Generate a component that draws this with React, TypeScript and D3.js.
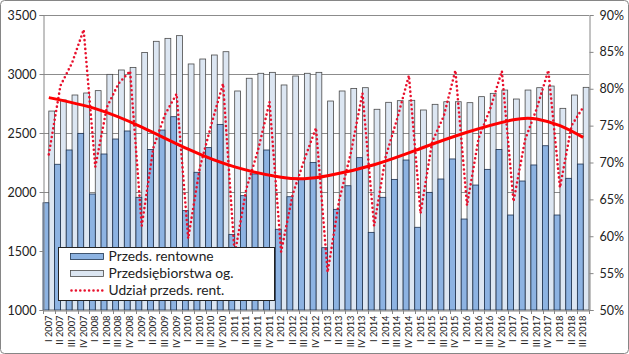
import React, { useEffect, useRef } from 'react';
import * as d3 from 'd3';

// quarters I 2007 .. III 2018
const roman = ['I', 'II', 'III', 'IV'];
const years = [2007, 2008, 2009, 2010, 2011, 2012, 2013, 2014, 2015, 2016, 2017, 2018];
const quarters: string[] = years.flatMap(y => roman.map(r => `${r} ${y}`)).slice(0, 47);

// Przeds. rentowne
const profitable = [
  1909, 2235, 2356, 2497, 1983, 2322, 2449, 2517, 1955, 2361, 2525, 2638,
  1842, 2167, 2376, 2573, 1641, 1969, 2153, 2356, 1684, 1960, 2116, 2251,
  1528, 1853, 2053, 2291, 1658, 1955, 2107, 2271, 1701, 1997, 2110, 2280,
  1771, 2059, 2192, 2361, 1805, 2093, 2229, 2392, 1805, 2116, 2237,
];

// Przedsiębiorstwa og.
const total = [
  2686, 2780, 2822, 2839, 2859, 2997, 3034, 3056, 3183, 3277, 3302, 3325,
  3085, 3127, 3161, 3189, 2856, 2964, 3006, 3014, 2907, 2983, 3006, 3014,
  2771, 2856, 2878, 2884, 2701, 2760, 2774, 2777, 2695, 2743, 2765, 2765,
  2757, 2808, 2836, 2864, 2788, 2864, 2884, 2898, 2709, 2822, 2887,
];

// Udział przeds. rent. (%)
const share = [
  71.1, 80.4, 83.5, 88.0, 69.4, 77.5, 80.7, 82.4, 61.4, 72.0, 76.5, 79.3,
  59.7, 69.3, 75.2, 80.7, 57.5, 66.4, 71.6, 78.2, 57.9, 65.7, 70.4, 74.7,
  55.1, 64.9, 71.3, 79.4, 61.4, 70.8, 76.0, 81.8, 63.1, 72.8, 76.3, 82.5,
  64.2, 73.3, 77.3, 82.4, 64.7, 73.1, 77.3, 82.5, 66.6, 75.0, 77.5,
];

// trend line read at a few quarters
const trendAt = ['I 2007', 'I 2008', 'I 2009', 'I 2010', 'I 2011', 'I 2012', 'III 2012', 'I 2013',
  'I 2014', 'I 2015', 'I 2016', 'I 2017', 'III 2017', 'I 2018', 'III 2018'];
const trendVals = [78.8, 77.3, 74.8, 71.8, 69.4, 68.0, 67.8, 68.2,
  69.7, 71.9, 74.1, 75.8, 75.9, 75.0, 73.4];

const leftTicks = [1000, 1500, 2000, 2500, 3000, 3500];
const rightTicks = [50, 55, 60, 65, 70, 75, 80, 85, 90];

const W = 629;
const H = 354;
const font = 'Lato, "Open Sans", sans-serif';

export default function App() {
  const svgRef = useRef<SVGSVGElement>(null);

  useEffect(() => {
    if (!svgRef.current) return;
    const svg = d3.select(svgRef.current);
    svg.selectAll('*').remove();

    const margin = { top: 15, right: 40, bottom: 44, left: 43 };
    const x0 = margin.left;
    const x1 = W - margin.right;
    const yTop = margin.top;
    const yBot = H - margin.bottom;

    const x = d3.scaleBand<string>().domain(quarters).range([x0, x1]).padding(0);
    const sub = d3.scaleBand<string>().domain(['p', 't']).range([0, x.bandwidth()]).padding(0);
    const yL = d3.scaleLinear().domain([1000, 3500]).range([yBot, yTop]);
    const yR = d3.scaleLinear().domain([50, 90]).range([yBot, yTop]);

    // outer frame
    svg.append('rect')
      .attr('x', 0.5).attr('y', 0.5)
      .attr('width', W - 1).attr('height', H - 1)
      .attr('rx', 4)
      .attr('fill', '#fff')
      .attr('stroke', '#868686');

    // gridlines
    svg.append('g')
      .selectAll('line')
      .data(leftTicks.slice(1))
      .join('line')
      .attr('x1', x0).attr('x2', x1)
      .attr('y1', d => Math.round(yL(d)) + 0.5)
      .attr('y2', d => Math.round(yL(d)) + 0.5)
      .attr('stroke', '#8c8c8c');

    // bars
    const g = svg.append('g');
    g.selectAll('rect.t')
      .data(quarters)
      .join('rect')
      .attr('class', 't')
      .attr('x', q => x(q)! + sub('t')!)
      .attr('y', (_, i) => yL(total[i]))
      .attr('width', sub.bandwidth())
      .attr('height', (_, i) => yBot - yL(total[i]))
      .attr('fill', '#dce6f2')
      .attr('stroke', '#4a4a4a')
      .attr('stroke-width', 0.8);

    g.selectAll('rect.p')
      .data(quarters)
      .join('rect')
      .attr('class', 'p')
      .attr('x', q => x(q)! + sub('p')!)
      .attr('y', (_, i) => yL(profitable[i]))
      .attr('width', sub.bandwidth())
      .attr('height', (_, i) => yBot - yL(profitable[i]))
      .attr('fill', '#8db3e2')
      .attr('stroke', '#1f3350')
      .attr('stroke-width', 0.8);

    // left axis
    const axL = svg.append('g')
      .attr('transform', `translate(${x0 + 0.5},0)`)
      .call(d3.axisLeft(yL).tickValues(leftTicks).tickSize(4).tickPadding(3).tickFormat(d3.format('d')));
    axL.select('.domain').attr('stroke', '#868686');
    axL.selectAll('.tick line').attr('stroke', '#868686');
    axL.selectAll('.tick text').attr('font-family', font).attr('font-size', 12.5).attr('fill', '#222');

    // right axis
    const axR = svg.append('g')
      .attr('transform', `translate(${x1 + 0.5},0)`)
      .call(d3.axisRight(yR).tickValues(rightTicks).tickSize(4).tickPadding(6).tickFormat(d => `${d}%`));
    axR.select('.domain').attr('stroke', '#868686');
    axR.selectAll('.tick line').attr('stroke', '#868686');
    axR.selectAll('.tick text').attr('font-family', font).attr('font-size', 12.5).attr('fill', '#222');

    // bottom axis
    const axB = svg.append('g')
      .attr('transform', `translate(0,${yBot + 0.5})`)
      .call(d3.axisBottom(x).tickSize(0).tickPadding(4));
    axB.select('.domain').attr('stroke', '#868686');
    axB.selectAll('.tick text')
      .attr('font-family', font)
      .attr('font-size', 9.3)
      .attr('fill', '#222')
      .attr('transform', 'rotate(-90)')
      .attr('text-anchor', 'end')
      .attr('x', -5)
      .attr('y', 0)
      .attr('dy', '0.32em');
    svg.append('g')
      .selectAll('line')
      .data(quarters.concat(['end']))
      .join('line')
      .attr('x1', (q, i) => Math.round(i < quarters.length ? x(q)! : x1) + 0.5)
      .attr('x2', (q, i) => Math.round(i < quarters.length ? x(q)! : x1) + 0.5)
      .attr('y1', yBot)
      .attr('y2', yBot + 4)
      .attr('stroke', '#868686');

    // share line (dotted)
    const cx = (q: string) => x(q)! + x.bandwidth() / 2;
    const line = d3.line<number>()
      .x((_, i) => cx(quarters[i]))
      .y(d => yR(d));
    svg.append('path')
      .datum(share)
      .attr('fill', 'none')
      .attr('stroke', '#e8102c')
      .attr('stroke-width', 2.6)
      .attr('stroke-linecap', 'round')
      .attr('stroke-dasharray', '0 4.4')
      .attr('d', line);

    // trend
    const trendLine = d3.line<number>()
      .x((_, i) => cx(trendAt[i]))
      .y(d => yR(d))
      .curve(d3.curveNatural);
    svg.append('path')
      .datum(trendVals)
      .attr('fill', 'none')
      .attr('stroke', '#ff0000')
      .attr('stroke-width', 3)
      .attr('d', trendLine);

    // legend
    const lg = svg.append('g').attr('transform', 'translate(58.5,247.5)');
    lg.append('rect')
      .attr('width', 216).attr('height', 53)
      .attr('fill', '#fff')
      .attr('stroke', '#222');
    const items = ['Przeds. rentowne', 'Przedsiębiorstwa og.', 'Udział przeds. rent.'];
    items.forEach((t, i) => {
      const cy = 9 + i * 17;
      if (i < 2) {
        lg.append('rect')
          .attr('x', 12).attr('y', cy - 3)
          .attr('width', 33).attr('height', 6)
          .attr('fill', i === 0 ? '#8db3e2' : '#dce6f2')
          .attr('stroke', i === 0 ? '#1f3350' : '#4a4a4a')
          .attr('stroke-width', 0.8);
      } else {
        lg.append('line')
          .attr('x1', 13).attr('x2', 45)
          .attr('y1', cy).attr('y2', cy)
          .attr('stroke', '#e8102c')
          .attr('stroke-width', 2.6)
          .attr('stroke-linecap', 'round')
          .attr('stroke-dasharray', '0 4.4');
      }
      lg.append('text')
        .attr('x', 50).attr('y', cy)
        .attr('dy', '0.35em')
        .attr('font-family', font)
        .attr('font-size', 13.8)
        .attr('fill', '#222')
        .text(t);
    });
  }, []);

  return (
    <div style={{ position: 'absolute', left: 0, top: 0 }}>
      <svg ref={svgRef} width={W} height={H} style={{ display: 'block' }}></svg>
    </div>
  );
}
